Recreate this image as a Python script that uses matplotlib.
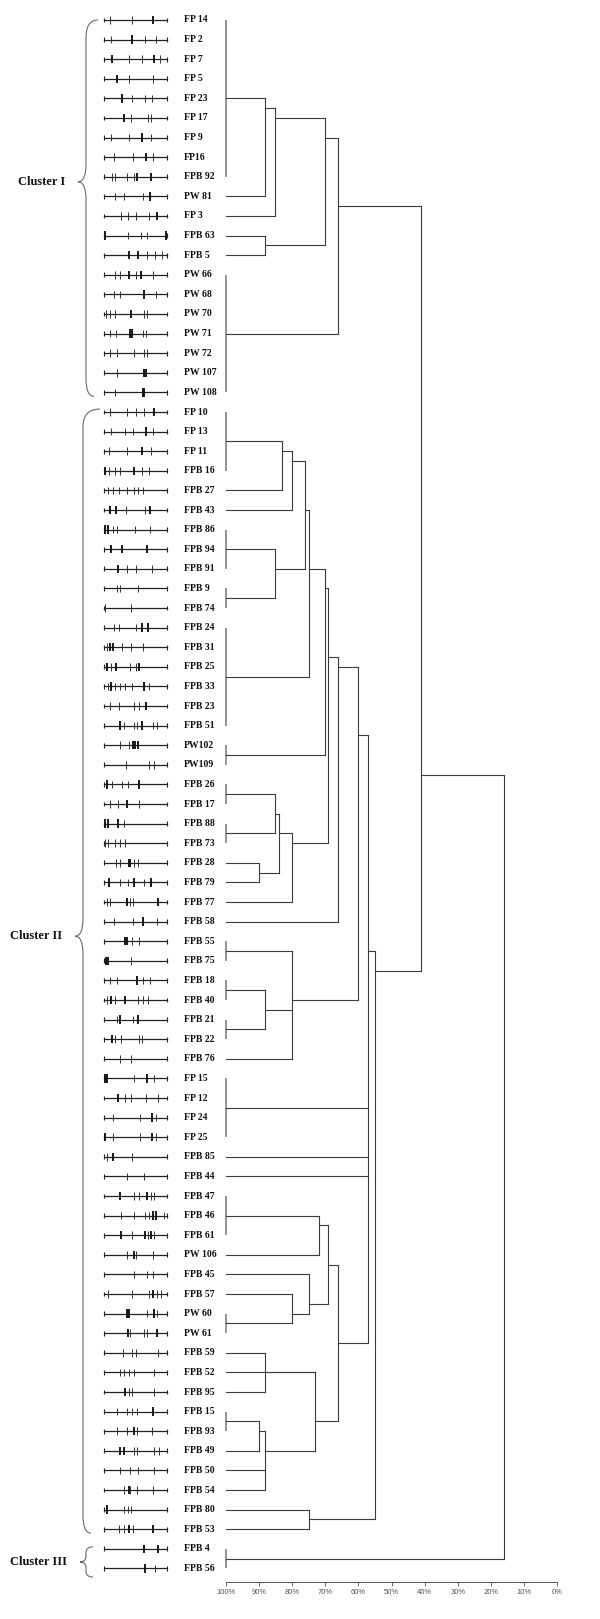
import numpy as np
import matplotlib
matplotlib.use("Agg")
import matplotlib.pyplot as plt
from matplotlib.path import Path
from matplotlib.patches import PathPatch
from matplotlib import transforms

# isolate names, top to bottom
names = ["FP 14", "FP 2", "FP 7", "FP 5", "FP 23", "FP 17", "FP 9", "FP16", "FPB 92", "PW 81",
         "FP 3", "FPB 63", "FPB 5", "PW 66", "PW 68", "PW 70", "PW 71", "PW 72", "PW 107", "PW 108",
         "FP 10", "FP 13", "FP 11", "FPB 16", "FPB 27", "FPB 43", "FPB 86", "FPB 94", "FPB 91", "FPB 9",
         "FPB 74", "FPB 24", "FPB 31", "FPB 25", "FPB 33", "FPB 23", "FPB 51", "PW102", "PW109", "FPB 26",
         "FPB 17", "FPB 88", "FPB 73", "FPB 28", "FPB 79", "FPB 77", "FPB 58", "FPB 55", "FPB 75", "FPB 18",
         "FPB 40", "FPB 21", "FPB 22", "FPB 76", "FP 15", "FP 12", "FP 24", "FP 25", "FPB 85", "FPB 44",
         "FPB 47", "FPB 46", "FPB 61", "PW 106", "FPB 45", "FPB 57", "PW 60", "PW 61", "FPB 59", "FPB 52",
         "FPB 95", "FPB 15", "FPB 93", "FPB 49", "FPB 50", "FPB 54", "FPB 80", "FPB 53", "FPB 4", "FPB 56"]

# band positions along each lane (0 = lane start, 100 = lane end)
bands = [[10, 45, 78], [11, 44, 65, 83], [13, 40, 61, 80, 89], [20, 39, 78], [29, 44, 65, 76],
         [32, 43, 70, 74], [11, 40, 60, 74], [16, 46, 66, 77], [12, 17, 36, 48, 53, 75], [18, 32, 62, 73],
         [27, 38, 51, 72, 84], [2, 38, 59, 68, 99], [40, 54, 68, 81, 92], [17, 26, 39, 50, 59, 77], [16, 26, 63, 82],
         [3, 10, 18, 43, 63, 69], [9, 19, 41, 44, 62, 66], [9, 20, 47, 63, 69], [21, 63, 66], [18, 62, 64],
         [9, 36, 50, 63, 79], [11, 34, 46, 66, 78], [8, 36, 61, 75], [2, 8, 17, 26, 47, 61, 72], [7, 14, 24, 37, 48, 54, 62],
         [9, 19, 35, 65, 73], [2, 7, 14, 20, 49, 73], [11, 29, 69], [22, 37, 50, 76], [20, 25, 54],
         [1, 43], [16, 24, 50, 61, 70], [5, 9, 14, 29, 43, 62], [5, 11, 19, 41, 50, 56], [7, 11, 17, 26, 34, 45, 64, 72],
         [10, 24, 48, 56, 67], [25, 31, 47, 52, 61, 77, 84], [25, 39, 46, 49, 54], [35, 72, 80], [4, 12, 28, 38, 56],
         [10, 23, 36, 56], [2, 6, 22, 31], [2, 6, 17, 25, 34], [19, 26, 39, 42, 48, 54], [8, 26, 38, 48, 63, 75],
         [4, 9, 36, 41, 46, 86], [16, 46, 62, 84], [33, 37, 44, 55], [3, 7, 43], [9, 20, 52, 62, 73],
         [5, 11, 18, 34, 54, 62, 70], [20, 26, 46, 54], [12, 18, 27, 55, 61], [25, 43], [1, 4, 47, 68, 80],
         [22, 33, 43, 66, 86], [15, 57, 76, 83], [1, 15, 57, 76, 83], [4, 15, 45], [36, 63],
         [25, 48, 56, 68, 74, 80], [27, 47, 65, 72, 78, 83, 96], [27, 44, 65, 70, 75, 80], [37, 48, 50, 78], [47, 68, 78],
         [6, 44, 72, 78, 84, 90], [37, 39, 68, 80, 84], [38, 41, 64, 69, 84], [30, 44, 51, 86], [26, 32, 39, 47, 80],
         [34, 39, 44, 79], [21, 37, 45, 53, 78], [21, 37, 47, 53, 76], [26, 31, 47, 53, 80, 88], [26, 41, 54, 79],
         [31, 39, 42, 53, 77], [4, 32, 38, 43], [24, 31, 39, 46, 78], [63, 85], [65, 81]]

# the strong (thick) bands of each lane
heavy = [[78], [44], [13, 80], [20], [29], [32], [60], [66], [53, 75], [73],
         [84], [2, 99], [40, 54], [39, 59], [63], [43], [41, 44], [], [63, 66], [62, 64],
         [79], [66], [61], [2, 47], [], [9, 19, 73], [2, 7], [11, 29, 69], [22], [],
         [], [61, 70], [9, 14], [5, 19, 56], [11, 64], [67], [25, 61], [46, 49, 54], [], [4, 56],
         [36], [2, 6, 22], [], [39, 42], [8, 48, 75], [36, 86], [62], [33, 37], [3, 7], [52],
         [11, 34], [26, 54], [12], [], [1, 4, 68], [22], [76], [1, 76], [15], [],
         [25, 68], [78, 83], [27, 65, 75], [48], [], [78], [37, 39, 80], [38, 84], [], [],
         [34], [78], [47], [26, 31], [], [39], [4], [39, 78], [63, 85], [65]]

# dendrogram merges: (node, members, similarity %)
merges = [
    ("g1", ["FP 14", "FP 2", "FP 7", "FP 5", "FP 23", "FP 17", "FP 9", "FP16", "FPB 92"], 100),
    ("n1", ["g1", "PW 81"], 88),
    ("n2", ["n1", "FP 3"], 85),
    ("n3", ["FPB 63", "FPB 5"], 88),
    ("n4", ["n2", "n3"], 70),
    ("g2", ["PW 66", "PW 68", "PW 70", "PW 71", "PW 72", "PW 107", "PW 108"], 100),
    ("n5", ["n4", "g2"], 66),
    ("g3", ["FP 10", "FP 13", "FP 11", "FPB 16"], 100),
    ("n6", ["g3", "FPB 27"], 83),
    ("n7", ["n6", "FPB 43"], 80),
    ("g4", ["FPB 86", "FPB 94", "FPB 91"], 100),
    ("g5", ["FPB 9", "FPB 74"], 100),
    ("n8", ["g4", "g5"], 85),
    ("n9", ["n7", "n8"], 76),
    ("g6", ["FPB 24", "FPB 31", "FPB 25", "FPB 33", "FPB 23", "FPB 51"], 100),
    ("n10", ["n9", "g6"], 75),
    ("g7", ["PW102", "PW109"], 100),
    ("n11", ["n10", "g7"], 70),
    ("g8", ["FPB 26", "FPB 17"], 100),
    ("g9", ["FPB 88", "FPB 73"], 100),
    ("n12", ["g8", "g9"], 85),
    ("n13", ["FPB 28", "FPB 79"], 90),
    ("n14", ["n12", "n13"], 84),
    ("n15", ["n14", "FPB 77"], 80),
    ("n16", ["n11", "n15"], 69),
    ("n17", ["n16", "FPB 58"], 66),
    ("g10", ["FPB 55", "FPB 75"], 100),
    ("g11", ["FPB 18", "FPB 40"], 100),
    ("g12", ["FPB 21", "FPB 22"], 100),
    ("n18", ["g11", "g12"], 88),
    ("n19", ["g10", "n18", "FPB 76"], 80),
    ("n20", ["n17", "n19"], 60),
    ("g13", ["FP 15", "FP 12", "FP 24", "FP 25"], 100),
    ("g14", ["FPB 47", "FPB 46", "FPB 61"], 100),
    ("n21", ["g14", "PW 106"], 72),
    ("g15", ["PW 60", "PW 61"], 100),
    ("n22", ["FPB 57", "g15"], 80),
    ("n23", ["FPB 45", "n22"], 75),
    ("n24", ["n21", "n23"], 69),
    ("n25", ["FPB 59", "FPB 95"], 88),
    ("g16", ["FPB 15", "FPB 93"], 100),
    ("n26", ["g16", "FPB 49"], 90),
    ("n27", ["n26", "FPB 50", "FPB 54"], 88),
    ("n28", ["n25", "FPB 52", "n27"], 73),
    ("n29", ["n24", "n28"], 66),
    ("n30", ["n20", "g13", "FPB 85", "FPB 44", "n29"], 57),
    ("n31", ["FPB 80", "FPB 53"], 75),
    ("n32", ["n30", "n31"], 55),
    ("n33", ["n5", "n32"], 41),
    ("g17", ["FPB 4", "FPB 56"], 100),
    ("root", ["n33", "g17"], 16),
]

clusters = [("Cluster I", "FP 14", "PW 108"),
            ("Cluster II", "FP 10", "FPB 53"),
            ("Cluster III", "FPB 4", "FPB 56")]

scale_ticks = np.arange(0, 101, 10)

# ---- layout (pixels of the 600 x 1619 picture)
W, H = 600, 1619
row0, step = 20.0, 19.6        # y of first row, row pitch
axis_y = 1581.7                # y of the similarity axis
fig = plt.figure(figsize=(W / 100, H / 100), dpi=100)

def box(x0, x1):
    return [x0 / W, 1 - axis_y / H, (x1 - x0) / W, axis_y / H]

ax_d = fig.add_axes(box(225.7, 557.3))
ax_l = fig.add_axes(box(104, 167), sharey=ax_d)
ax_d.set_xlim(100, 0)
ax_d.set_ylim((axis_y - row0) / step, -row0 / step)
ax_l.set_xlim(0, 100)
ax_l.axis("off")

line_c = "#3c3c3c"
group_c = "#8c8c8c"

# ---- dendrogram
pos = {n: (100.0, [i]) for i, n in enumerate(names)}
for node, kids, sim in merges:
    leaves = sum((pos[k][1] for k in kids), [])
    if sim == 100:
        ax_d.plot([100, 100], [min(leaves), max(leaves)], color=group_c, lw=1.3, clip_on=False,
                  solid_capstyle="butt")
    else:
        ys = []
        for k in kids:
            kx, kl = pos[k]
            ky = np.mean(kl)
            ys.append(ky)
            ax_d.plot([kx, sim], [ky, ky], color=line_c, lw=0.8, clip_on=False)
        ax_d.plot([sim, sim], [min(ys), max(ys)], color=line_c, lw=0.8, clip_on=False)
    pos[node] = (sim, leaves)

for s in ["top", "left", "right"]:
    ax_d.spines[s].set_visible(False)
ax_d.spines["bottom"].set_color("#555555")
ax_d.spines["bottom"].set_linewidth(0.7)
ax_d.set_yticks([])
ax_d.set_xticks(scale_ticks)
ax_d.set_xticklabels([f"{t}%" for t in scale_ticks], fontsize=5.5, color="#555555",
                     family="Liberation Sans")
ax_d.tick_params(axis="x", direction="out", length=2.6, width=0.6, colors="#555555", pad=2.5)

# ---- band patterns
for i, (b, hv) in enumerate(zip(bands, heavy)):
    ax_l.plot([0, 100], [i, i], color="#222222", lw=0.9, clip_on=False)
    ax_l.vlines([0, 100], i - 0.12, i + 0.12, color="#222222", lw=0.8, clip_on=False)
    thin = [p for p in b if p not in hv]
    ax_l.vlines(thin, i - 0.19, i + 0.19, color="#333333", lw=0.7, clip_on=False)
    ax_l.vlines(hv, i - 0.21, i + 0.21, color="#111111", lw=1.35, clip_on=False)

# ---- isolate labels
tr = transforms.blended_transform_factory(fig.transFigure, ax_d.transData)
for i, n in enumerate(names):
    ax_d.text(183.5 / W, i, n, transform=tr, ha="left", va="center", fontsize=7,
              fontweight="bold", family="Liberation Serif", color="#111111")

# ---- cluster braces
brace_geo = [  # x_end_top, x_end_bot, x_mid, x_tip, top pad, bottom pad, tip fraction, curl
    (98, 94, 86, 78, 0.0, 0.2, 0.43, 0.9),
    (100, 91, 83, 75, -0.15, 0.2, 0.469, 0.9),
    (93, 93, 86, 80, -0.1, 0.44, 0.5, 0.3),
]
for (label, first, last), (xt, xb, xm, xp, pt, pb, tf, r) in zip(clusters, brace_geo):
    y0 = names.index(first) + pt
    y1 = names.index(last) + pb
    yt = y0 + tf * (y1 - y0)
    xt, xb, xm, xp = xt / W, xb / W, xm / W, xp / W
    verts = [(xt, y0), (xm, y0), (xm, y0 + r), (xm, yt - r), (xm, yt), (xp, yt),
             (xm, yt), (xm, yt + r), (xm, y1 - r), (xm, y1), (xb, y1)]
    codes = [Path.MOVETO, Path.CURVE3, Path.CURVE3, Path.LINETO, Path.CURVE3, Path.CURVE3,
             Path.CURVE3, Path.CURVE3, Path.LINETO, Path.CURVE3, Path.CURVE3]
    ax_d.add_patch(PathPatch(Path(verts, codes), transform=tr, fill=False, edgecolor="#6a6a6a",
                             lw=0.8, clip_on=False))
    ax_d.text(xp - 12.5 / W, yt, label, transform=tr, ha="right", va="center", fontsize=9,
              fontweight="bold", family="Liberation Serif", color="#111111")

fig.savefig("out.png", dpi=100)
